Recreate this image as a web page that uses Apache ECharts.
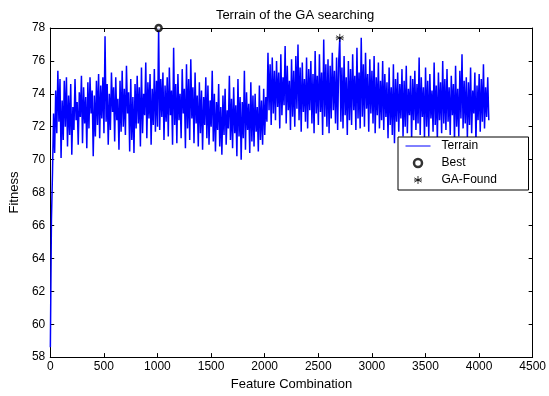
<!DOCTYPE html>
<html>
<head>
<meta charset="utf-8">
<script src="https://cdn.jsdelivr.net/npm/echarts@6/dist/echarts.min.js"></script>
<style>
  html, body { margin: 0; padding: 0; background: #fff; }
  #chart { width: 549px; height: 396px; }
</style>
</head>
<body>
<div id="chart"></div>
<script>
// Feature combination index of the first sample and spacing between samples
const xStart = 1;
const xStep = 10;

// Fitness terrain values (one row = 100 combinations)
const fitness = [
  58.6, 66.3, 69.2, 72.8, 70.4, 74.2, 71.6, 75.4, 72.3, 74.9,
  70.1, 73.6, 71.2, 74.8, 72.0, 75.0, 70.8, 73.9, 71.5, 74.6,
  70.3, 73.2, 71.8, 74.9, 72.4, 73.5, 70.9, 74.1, 72.6, 75.1,
  71.0, 74.4, 72.2, 73.8, 70.7, 74.7, 71.9, 75.0, 72.8, 74.2,
  70.2, 73.9, 71.4, 74.8, 72.1, 75.2, 71.3, 74.5, 72.5, 75.0,
  71.6, 77.5, 72.3, 74.6, 70.9, 74.0, 71.8, 75.3, 72.9, 74.4,
  71.1, 75.0, 72.4, 73.7, 70.6, 74.8, 71.7, 75.4, 72.0, 74.3,
  71.5, 75.7, 72.8, 74.1, 70.5, 74.9, 71.2, 73.8, 70.4, 74.6,
  71.9, 75.1, 72.2, 74.4, 70.8, 75.6, 71.6, 74.0, 72.7, 75.9,
  71.3, 74.7, 72.5, 75.2, 70.9, 74.3, 72.1, 75.5, 71.7, 74.8,
  72.0, 78.0, 71.8, 74.9, 72.6, 75.3, 71.2, 74.5, 72.3, 75.0,
  71.4, 75.6, 72.7, 74.2, 70.9, 76.8, 72.1, 74.6, 71.0, 75.2,
  72.4, 74.0, 71.3, 75.5, 72.8, 74.3, 70.7, 75.8, 71.9, 74.9,
  71.2, 76.1, 72.5, 74.4, 71.0, 75.3, 72.2, 73.9, 70.8, 74.7,
  71.6, 74.2, 70.6, 73.8, 72.1, 75.0, 71.3, 74.5, 70.9, 73.6,
  72.0, 75.4, 71.1, 74.0, 70.5, 73.5, 71.8, 74.6, 70.8, 73.2,
  70.3, 73.9, 71.5, 74.3, 70.9, 73.0, 71.9, 75.1, 71.2, 73.7,
  70.7, 74.4, 71.6, 73.3, 70.2, 74.9, 71.4, 73.8, 70.0, 73.5,
  71.3, 75.4, 70.6, 74.1, 71.8, 73.4, 70.4, 74.7, 71.1, 73.9,
  70.8, 74.0, 71.7, 73.2, 70.5, 74.5, 71.2, 73.6, 70.9, 74.3,
  71.5, 73.8, 72.3, 76.5, 73.0, 75.8, 72.1, 76.2, 72.8, 75.4,
  72.4, 76.0, 73.2, 75.3, 71.9, 76.4, 72.7, 75.0, 73.3, 76.9,
  72.2, 75.7, 73.0, 74.8, 71.8, 76.1, 72.6, 75.4, 72.0, 76.3,
  73.1, 77.0, 72.4, 75.6, 71.7, 75.9, 72.9, 74.9, 72.3, 76.2,
  71.9, 75.5, 73.0, 76.0, 72.2, 75.2, 71.6, 76.6, 72.8, 75.1,
  72.1, 76.4, 72.9, 75.3, 71.5, 77.3, 72.6, 75.8, 72.0, 76.1,
  71.6, 75.7, 72.5, 76.5, 73.0, 75.4, 72.2, 76.2, 71.8, 76.0,
  77.4, 72.3, 75.6, 71.9, 76.3, 72.7, 75.0, 71.5, 76.0, 72.4,
  75.5, 72.1, 76.4, 73.0, 75.1, 71.8, 76.8, 72.5, 75.3, 71.9,
  77.4, 72.6, 75.8, 72.0, 76.5, 73.1, 75.2, 71.7, 76.1, 72.8,
  75.4, 72.2, 76.3, 71.6, 75.0, 72.7, 75.9, 71.9, 74.8, 72.4,
  76.0, 71.8, 75.2, 72.6, 74.7, 71.3, 75.6, 72.1, 74.4, 71.5,
  75.8, 71.0, 74.9, 72.3, 75.3, 71.7, 74.6, 72.5, 75.5, 71.4,
  74.8, 72.0, 75.7, 71.6, 74.3, 72.7, 75.1, 71.2, 74.9, 72.4,
  75.4, 71.8, 74.6, 72.2, 76.2, 71.5, 75.0, 72.6, 74.4, 71.3,
  75.6, 72.0, 74.8, 71.4, 75.2, 72.5, 74.2, 71.7, 75.9, 72.1,
  74.5, 71.2, 75.3, 72.4, 74.7, 71.6, 76.0, 72.2, 74.9, 71.8,
  75.5, 72.3, 74.4, 71.5, 75.1, 72.7, 74.6, 71.1, 75.7, 72.0,
  74.3, 71.4, 75.4, 72.5, 76.4, 71.9, 74.8, 72.2, 75.0, 71.3,
  74.7, 72.1, 75.6, 71.6, 74.2, 72.8, 75.3, 71.0, 74.5, 72.4,
  75.2, 71.7, 74.9, 72.3, 75.8, 71.9, 74.4, 72.6, 75.0, 72.4
];

// Highlighted points
const bestPoint = [[1011, 78.0]];
const gaFoundPoint = [[2701, 77.4]];

// Axis settings
const xMin = 0, xMax = 4500, xInterval = 500;
const yMin = 58, yMax = 78, yInterval = 2;

const terrain = fitness.map((v, i) => [xStart + i * xStep, v]);

const FONT = '"Liberation Sans", Arial, sans-serif';
const asterisk = 'path://M0,-5L0,5M-4.6,-2.6L4.6,2.6M-4.6,2.6L4.6,-2.6M-5,0L5,0';

const chart = echarts.init(document.getElementById('chart'), null, { renderer: 'canvas' });

const tickCommon = { show: true, inside: true, length: 4, lineStyle: { color: '#000', width: 1 } };
const lineCommon = { show: true, onZero: false, lineStyle: { color: '#000', width: 1 } };
const plainNum = v => String(v);

chart.setOption({
  animation: false,
  backgroundColor: '#fff',
  title: {
    text: 'Terrain of the GA searching',
    left: 290, top: 4, textAlign: 'center',
    textStyle: { fontFamily: FONT, fontSize: 13, fontWeight: 'normal', color: '#000' }
  },
  grid: { left: 47, right: 15, top: 28, bottom: 37, containLabel: false },
  legend: {
    orient: 'vertical',
    left: 398, top: 137,
    padding: [2, 7, 3, 7],
    itemGap: 3,
    itemWidth: 25, itemHeight: 8,
    backgroundColor: '#fff',
    borderColor: '#000', borderWidth: 1, borderRadius: 0,
    textStyle: { fontFamily: FONT, fontSize: 12, color: '#000', lineHeight: 14, width: 80, padding: [0, 0, 0, 6] },
    data: [
      { name: 'Terrain', itemStyle: { color: 'rgba(0,0,0,0)', borderWidth: 0 }, lineStyle: { color: '#0000ff', width: 1 } },
      { name: 'Best', itemStyle: { color: '#fff', borderColor: '#000', borderWidth: 2.5 } },
      { name: 'GA-Found', itemStyle: { color: 'rgba(0,0,0,0)', borderColor: '#000', borderWidth: 1 } }
    ]
  },
  xAxis: [
    {
      type: 'value', min: xMin, max: xMax, interval: xInterval,
      position: 'bottom',
      name: 'Feature Combination', nameLocation: 'middle', nameGap: 20,
      nameTextStyle: { fontFamily: FONT, fontSize: 13, color: '#000' },
      axisLine: lineCommon, axisTick: tickCommon, splitLine: { show: false },
      axisLabel: { fontFamily: FONT, fontSize: 12, color: '#000', margin: 4, formatter: plainNum }
    },
    {
      type: 'value', min: xMin, max: xMax, interval: xInterval,
      position: 'top',
      axisLine: lineCommon, axisTick: tickCommon, splitLine: { show: false },
      axisLabel: { show: false }
    }
  ],
  yAxis: [
    {
      type: 'value', min: yMin, max: yMax, interval: yInterval,
      position: 'left',
      name: 'Fitness', nameLocation: 'middle', nameGap: 28, nameRotate: 90,
      nameTextStyle: { fontFamily: FONT, fontSize: 13, color: '#000' },
      axisLine: lineCommon, axisTick: tickCommon, splitLine: { show: false },
      axisLabel: { fontFamily: FONT, fontSize: 12, color: '#000', margin: 5, formatter: plainNum }
    },
    {
      type: 'value', min: yMin, max: yMax, interval: yInterval,
      position: 'right',
      axisLine: lineCommon, axisTick: tickCommon, splitLine: { show: false },
      axisLabel: { show: false }
    }
  ],
  series: [
    {
      name: 'Terrain', type: 'line', xAxisIndex: 0, yAxisIndex: 0,
      data: terrain, showSymbol: false, symbol: 'none', clip: true,
      lineStyle: { color: '#0000ff', width: 1.5 },
      itemStyle: { color: '#0000ff' },
      emphasis: { disabled: true }, z: 2
    },
    {
      name: 'Best', type: 'scatter', xAxisIndex: 0, yAxisIndex: 0,
      data: bestPoint, symbol: 'circle', symbolSize: 6, clip: false,
      itemStyle: { color: '#fff', borderColor: '#000', borderWidth: 2.5 },
      emphasis: { disabled: true }, z: 5
    },
    {
      name: 'GA-Found', type: 'scatter', xAxisIndex: 0, yAxisIndex: 0,
      data: gaFoundPoint, symbol: asterisk, symbolSize: 8, clip: false,
      itemStyle: { color: 'rgba(0,0,0,0)', borderColor: '#000', borderWidth: 1 },
      emphasis: { disabled: true }, z: 5
    }
  ]
});
</script>
</body>
</html>
